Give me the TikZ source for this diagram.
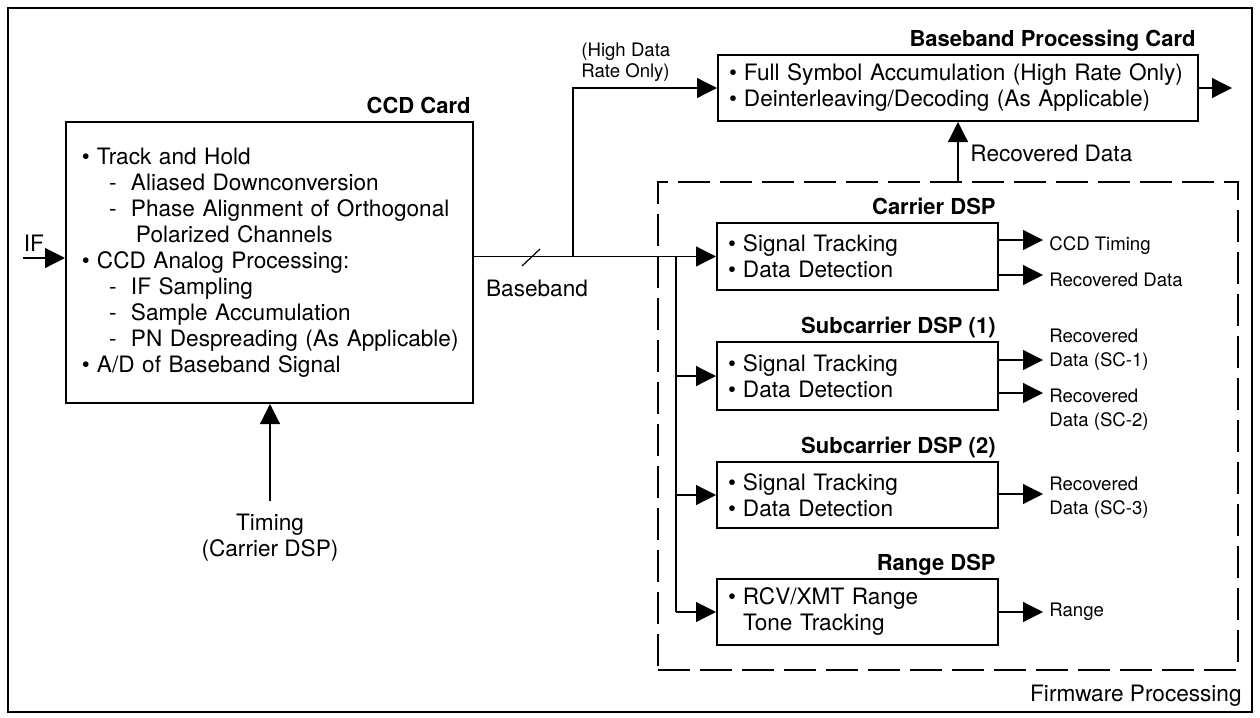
\documentclass[tikz,border=0pt]{standalone}
\usepackage{fontspec}
\setmainfont{TeX Gyre Heros}
\usetikzlibrary{arrows.meta}
\newcommand{\mainf}{\fontsize{11.3}{13}\selectfont}
\newcommand{\smallf}{\fontsize{9.3}{12}\selectfont}
\newcommand{\ttlf}{\fontsize{11}{13}\selectfont\bfseries}
\newcommand{\bul}{\makebox[7.5pt][l]{\textbullet}}
\newcommand{\subi}[1]{\hspace*{13.5pt}\makebox[11pt][l]{-}\mbox{#1}}
\newcommand{\subc}[1]{\hspace*{27pt}\mbox{#1}}
\begin{document}
\begin{tikzpicture}[x=0.5pt,y=-0.5pt,
  box/.style={draw, line width=1pt, align=left, inner xsep=5.5pt, inner ysep=0pt, font=\mainf},
  ttl/.style={font=\ttlf, anchor=base east, inner sep=0pt, xshift=-1.5pt, yshift=4pt},
  arr/.style={-{Triangle[length=10pt,width=10pt]}, line width=0.6pt},
  lbl/.style={font=\smallf, anchor=west, align=left, inner sep=0pt}]
\useasboundingbox (0,0) rectangle (1260,718);
\draw[line width=1pt] (8,8) rectangle (1252,712);

% firmware area
\node[draw, line width=1pt, dash pattern=on 16pt off 5pt, minimum width=290pt, minimum height=244pt, inner sep=0pt] (fw) at (948,426) {};
\node[font=\mainf, anchor=base east, inner sep=0pt] (fwl) at (1242,701) {Firmware Processing};

% cards
\node[box, inner xsep=8pt, text width=187.5pt, minimum height=140.5pt] (ccd) at (269.5,262.5)
 {\bul Track and Hold\\
  \subi{Aliased Downconversion}\\
  \subi{Phase Alignment of Orthogonal}\\
  \subc{Polarized Channels}\\
  \bul CCD Analog Processing:\\
  \subi{IF Sampling}\\
  \subi{Sample Accumulation}\\
  \subi{PN Despreading (As Applicable)}\\
  \bul A/D of Baseband Signal};
\node[ttl] (ccdt) at (ccd.north east) {CCD Card};

\node[box, text width=229pt, minimum height=33pt] (bpc) at (958,88)
 {\bul Full Symbol Accumulation (High Rate Only)\\
  \bul Deinterleaving/Decoding (As Applicable)};
\node[ttl] (bpct) at (bpc.north east) {Baseband Processing Card};

% DSPs
\node[box, text width=129.5pt, minimum height=33.5pt] (car) at (857.5,256.5) {\bul Signal Tracking\\\bul Data Detection};
\node[ttl] (cart) at (car.north east) {Carrier DSP};
\node[box, text width=129.5pt, minimum height=34pt] (sc1) at (857.5,376) {\bul Signal Tracking\\\bul Data Detection};
\node[ttl] (sc1t) at (sc1.north east) {Subcarrier DSP (1)};
\node[box, text width=129.5pt, minimum height=33pt] (sc2) at (857.5,495) {\bul Signal Tracking\\\bul Data Detection};
\node[ttl] (sc2t) at (sc2.north east) {Subcarrier DSP (2)};
\node[box, text width=129.5pt, minimum height=33pt] (rng) at (857.5,612) {\bul RCV/XMT Range\\\hspace*{7.5pt}Tone Tracking};
\node[ttl] (rngt) at (rng.north east) {Range DSP};

% inputs
\node[font=\mainf, inner sep=0pt] (ifl) at (34,243) {IF};
\coordinate (ifin) at (23,258);
\draw[arr] (ifin) -- (ifin -| ccd.west);
\draw[arr] (ccd.east |- car.west) -- (car.west);
\draw[line width=0.6pt] (522,266) -- (540,249);
\node[font=\mainf, inner sep=0pt] (bbl) at (537,288) {Baseband};
\coordinate (hd) at (573,0);
\draw[arr] (hd |- car.west) |- (bpc.west);
\node[lbl, font=\fontsize{9.3}{10.5}\selectfont] (hdl) at (581,62) {(High Data\\Rate Only)};
\coordinate (bus) at (676,0);
\draw[line width=0.6pt] (bus |- car.west) -- (bus |- rng.west);
\foreach \d in {sc1,sc2,rng}
  \draw[arr] (bus |- \d.west) -- (\d.west);
\coordinate (tim) at (270,501);
\draw[arr] (tim) -- (tim |- ccd.south);
\node[font=\mainf, align=center, inner sep=0pt] (timl) at (270,537.5) {Timing\\(Carrier DSP)};

% outputs
\coordinate (bpco) at (1232,88);
\draw[arr] (bpc.east) -- (bpco);
\draw[arr] (bpc.south |- fw.north) -- (bpc.south);
\node[font=\mainf, anchor=west, inner sep=0pt] (rdl) at (970,153) {Recovered Data};
\coordinate (o1) at (1043,240);
\coordinate (o2) at (1043,275);
\coordinate (o3) at (1043,360);
\coordinate (o4) at (1043,393);
\coordinate (o5) at (1043,494);
\coordinate (o6) at (1043,612);
\foreach \b/\o in {car/o1,car/o2,sc1/o3,sc1/o4,sc2/o5,rng/o6}
  \draw[arr] (\b.east |- \o) -- (\o);
\node[lbl] (l1) at (1049,246) {CCD Timing};
\node[lbl] (l2) at (1049,280) {Recovered Data};
\node[lbl] (l3) at (1049,350) {Recovered\\Data (SC-1)};
\node[lbl] (l4) at (1049,409.5) {Recovered\\Data (SC-2)};
\node[lbl] (l5) at (1049,497.5) {Recovered\\Data (SC-3)};
\node[lbl] (l6) at (1049,612) {Range};
\end{tikzpicture}
\end{document}
